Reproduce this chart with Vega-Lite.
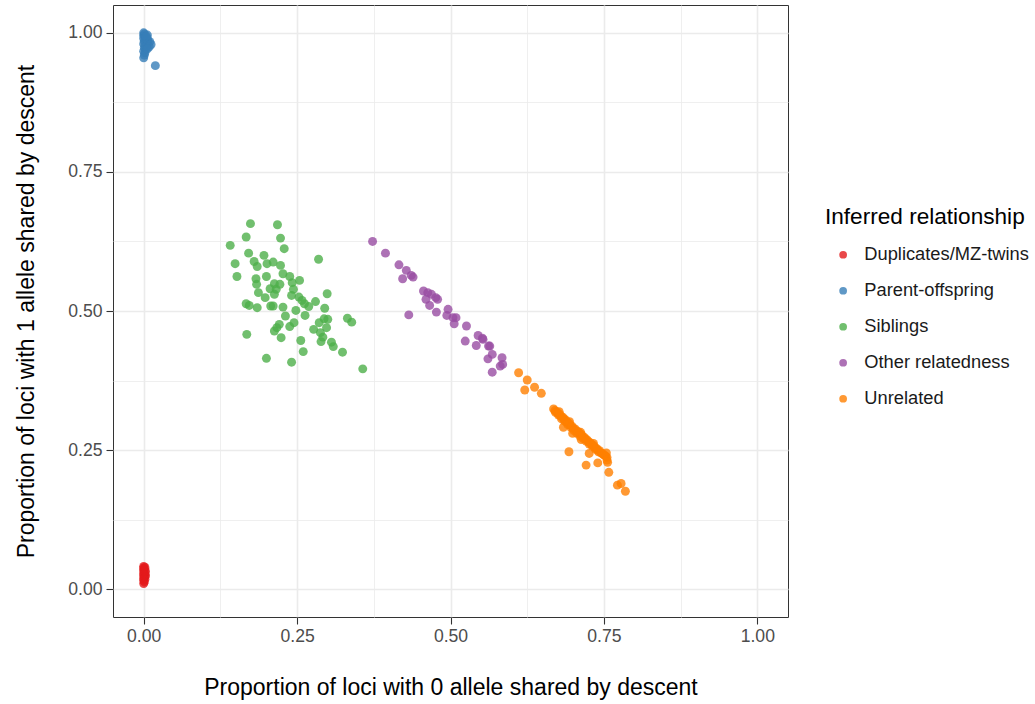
{
"$schema": "https://vega.github.io/schema/vega-lite/v6.json",
"width": 675, "height": 612,
"autosize": {"type": "none"},
"padding": {"left": 113, "top": 5, "right": 247, "bottom": 87},
"background": "white",
"config": {"font": "Liberation Sans", "view": {"stroke": "#333333", "strokeWidth": 1}},
"data": {"values": [
{"x":0.000,"y":0.010,"rel":"Duplicates/MZ-twins"},{"x":0.001,"y":0.013,"rel":"Duplicates/MZ-twins"},{"x":0.000,"y":0.016,"rel":"Duplicates/MZ-twins"},{"x":0.002,"y":0.018,"rel":"Duplicates/MZ-twins"},{"x":0.000,"y":0.020,"rel":"Duplicates/MZ-twins"},{"x":0.001,"y":0.022,"rel":"Duplicates/MZ-twins"},{"x":0.003,"y":0.024,"rel":"Duplicates/MZ-twins"},{"x":0.000,"y":0.025,"rel":"Duplicates/MZ-twins"},{"x":0.002,"y":0.027,"rel":"Duplicates/MZ-twins"},{"x":0.000,"y":0.029,"rel":"Duplicates/MZ-twins"},{"x":0.001,"y":0.031,"rel":"Duplicates/MZ-twins"},{"x":0.003,"y":0.032,"rel":"Duplicates/MZ-twins"},{"x":0.000,"y":0.034,"rel":"Duplicates/MZ-twins"},{"x":0.001,"y":0.036,"rel":"Duplicates/MZ-twins"},{"x":0.000,"y":0.038,"rel":"Duplicates/MZ-twins"},{"x":0.002,"y":0.039,"rel":"Duplicates/MZ-twins"},{"x":0.000,"y":0.041,"rel":"Duplicates/MZ-twins"},
{"x":0.000,"y":1.000,"rel":"Parent-offspring"},{"x":0.001,"y":0.998,"rel":"Parent-offspring"},{"x":0.000,"y":0.995,"rel":"Parent-offspring"},{"x":0.002,"y":0.993,"rel":"Parent-offspring"},{"x":0.000,"y":0.990,"rel":"Parent-offspring"},{"x":0.003,"y":0.988,"rel":"Parent-offspring"},{"x":0.001,"y":0.985,"rel":"Parent-offspring"},{"x":0.004,"y":0.983,"rel":"Parent-offspring"},{"x":0.000,"y":0.980,"rel":"Parent-offspring"},{"x":0.002,"y":0.978,"rel":"Parent-offspring"},{"x":0.005,"y":0.976,"rel":"Parent-offspring"},{"x":0.001,"y":0.973,"rel":"Parent-offspring"},{"x":0.003,"y":0.970,"rel":"Parent-offspring"},{"x":0.000,"y":0.967,"rel":"Parent-offspring"},{"x":0.002,"y":0.964,"rel":"Parent-offspring"},{"x":0.001,"y":0.960,"rel":"Parent-offspring"},{"x":0.000,"y":0.955,"rel":"Parent-offspring"},{"x":0.006,"y":0.990,"rel":"Parent-offspring"},{"x":0.007,"y":0.985,"rel":"Parent-offspring"},{"x":0.010,"y":0.984,"rel":"Parent-offspring"},{"x":0.012,"y":0.979,"rel":"Parent-offspring"},{"x":0.009,"y":0.975,"rel":"Parent-offspring"},{"x":0.006,"y":0.971,"rel":"Parent-offspring"},{"x":0.004,"y":0.994,"rel":"Parent-offspring"},{"x":0.006,"y":0.996,"rel":"Parent-offspring"},{"x":0.019,"y":0.941,"rel":"Parent-offspring"},
{"x":0.174,"y":0.657,"rel":"Siblings"},{"x":0.218,"y":0.655,"rel":"Siblings"},{"x":0.167,"y":0.633,"rel":"Siblings"},{"x":0.223,"y":0.631,"rel":"Siblings"},{"x":0.141,"y":0.618,"rel":"Siblings"},{"x":0.229,"y":0.612,"rel":"Siblings"},{"x":0.171,"y":0.604,"rel":"Siblings"},{"x":0.196,"y":0.600,"rel":"Siblings"},{"x":0.285,"y":0.593,"rel":"Siblings"},{"x":0.149,"y":0.585,"rel":"Siblings"},{"x":0.180,"y":0.589,"rel":"Siblings"},{"x":0.185,"y":0.580,"rel":"Siblings"},{"x":0.201,"y":0.585,"rel":"Siblings"},{"x":0.211,"y":0.588,"rel":"Siblings"},{"x":0.223,"y":0.582,"rel":"Siblings"},{"x":0.152,"y":0.562,"rel":"Siblings"},{"x":0.227,"y":0.567,"rel":"Siblings"},{"x":0.183,"y":0.558,"rel":"Siblings"},{"x":0.200,"y":0.562,"rel":"Siblings"},{"x":0.238,"y":0.562,"rel":"Siblings"},{"x":0.254,"y":0.555,"rel":"Siblings"},{"x":0.184,"y":0.548,"rel":"Siblings"},{"x":0.213,"y":0.549,"rel":"Siblings"},{"x":0.222,"y":0.548,"rel":"Siblings"},{"x":0.242,"y":0.551,"rel":"Siblings"},{"x":0.206,"y":0.540,"rel":"Siblings"},{"x":0.216,"y":0.539,"rel":"Siblings"},{"x":0.244,"y":0.539,"rel":"Siblings"},{"x":0.187,"y":0.533,"rel":"Siblings"},{"x":0.213,"y":0.530,"rel":"Siblings"},{"x":0.241,"y":0.528,"rel":"Siblings"},{"x":0.253,"y":0.525,"rel":"Siblings"},{"x":0.299,"y":0.531,"rel":"Siblings"},{"x":0.198,"y":0.524,"rel":"Siblings"},{"x":0.258,"y":0.519,"rel":"Siblings"},{"x":0.167,"y":0.513,"rel":"Siblings"},{"x":0.172,"y":0.510,"rel":"Siblings"},{"x":0.185,"y":0.506,"rel":"Siblings"},{"x":0.207,"y":0.509,"rel":"Siblings"},{"x":0.227,"y":0.507,"rel":"Siblings"},{"x":0.211,"y":0.509,"rel":"Siblings"},{"x":0.262,"y":0.513,"rel":"Siblings"},{"x":0.280,"y":0.517,"rel":"Siblings"},{"x":0.248,"y":0.501,"rel":"Siblings"},{"x":0.269,"y":0.508,"rel":"Siblings"},{"x":0.295,"y":0.505,"rel":"Siblings"},{"x":0.263,"y":0.492,"rel":"Siblings"},{"x":0.231,"y":0.491,"rel":"Siblings"},{"x":0.294,"y":0.486,"rel":"Siblings"},{"x":0.300,"y":0.485,"rel":"Siblings"},{"x":0.332,"y":0.487,"rel":"Siblings"},{"x":0.339,"y":0.480,"rel":"Siblings"},{"x":0.245,"y":0.479,"rel":"Siblings"},{"x":0.221,"y":0.476,"rel":"Siblings"},{"x":0.238,"y":0.472,"rel":"Siblings"},{"x":0.217,"y":0.470,"rel":"Siblings"},{"x":0.286,"y":0.479,"rel":"Siblings"},{"x":0.277,"y":0.467,"rel":"Siblings"},{"x":0.298,"y":0.470,"rel":"Siblings"},{"x":0.213,"y":0.464,"rel":"Siblings"},{"x":0.288,"y":0.461,"rel":"Siblings"},{"x":0.168,"y":0.458,"rel":"Siblings"},{"x":0.292,"y":0.453,"rel":"Siblings"},{"x":0.224,"y":0.452,"rel":"Siblings"},{"x":0.256,"y":0.447,"rel":"Siblings"},{"x":0.289,"y":0.445,"rel":"Siblings"},{"x":0.306,"y":0.444,"rel":"Siblings"},{"x":0.309,"y":0.436,"rel":"Siblings"},{"x":0.324,"y":0.426,"rel":"Siblings"},{"x":0.260,"y":0.427,"rel":"Siblings"},{"x":0.200,"y":0.415,"rel":"Siblings"},{"x":0.241,"y":0.408,"rel":"Siblings"},{"x":0.357,"y":0.396,"rel":"Siblings"},
{"x":0.373,"y":0.625,"rel":"Other relatedness"},{"x":0.394,"y":0.604,"rel":"Other relatedness"},{"x":0.416,"y":0.583,"rel":"Other relatedness"},{"x":0.428,"y":0.573,"rel":"Other relatedness"},{"x":0.436,"y":0.564,"rel":"Other relatedness"},{"x":0.422,"y":0.558,"rel":"Other relatedness"},{"x":0.439,"y":0.561,"rel":"Other relatedness"},{"x":0.456,"y":0.536,"rel":"Other relatedness"},{"x":0.463,"y":0.533,"rel":"Other relatedness"},{"x":0.469,"y":0.530,"rel":"Other relatedness"},{"x":0.460,"y":0.521,"rel":"Other relatedness"},{"x":0.476,"y":0.524,"rel":"Other relatedness"},{"x":0.479,"y":0.521,"rel":"Other relatedness"},{"x":0.466,"y":0.510,"rel":"Other relatedness"},{"x":0.477,"y":0.498,"rel":"Other relatedness"},{"x":0.432,"y":0.493,"rel":"Other relatedness"},{"x":0.496,"y":0.503,"rel":"Other relatedness"},{"x":0.494,"y":0.492,"rel":"Other relatedness"},{"x":0.504,"y":0.488,"rel":"Other relatedness"},{"x":0.509,"y":0.488,"rel":"Other relatedness"},{"x":0.506,"y":0.477,"rel":"Other relatedness"},{"x":0.526,"y":0.473,"rel":"Other relatedness"},{"x":0.545,"y":0.456,"rel":"Other relatedness"},{"x":0.553,"y":0.449,"rel":"Other relatedness"},{"x":0.524,"y":0.446,"rel":"Other relatedness"},{"x":0.542,"y":0.438,"rel":"Other relatedness"},{"x":0.562,"y":0.437,"rel":"Other relatedness"},{"x":0.552,"y":0.451,"rel":"Other relatedness"},{"x":0.564,"y":0.437,"rel":"Other relatedness"},{"x":0.568,"y":0.422,"rel":"Other relatedness"},{"x":0.561,"y":0.414,"rel":"Other relatedness"},{"x":0.584,"y":0.416,"rel":"Other relatedness"},{"x":0.585,"y":0.404,"rel":"Other relatedness"},{"x":0.581,"y":0.401,"rel":"Other relatedness"},{"x":0.568,"y":0.390,"rel":"Other relatedness"},
{"x":0.611,"y":0.389,"rel":"Unrelated"},{"x":0.625,"y":0.376,"rel":"Unrelated"},{"x":0.621,"y":0.358,"rel":"Unrelated"},{"x":0.637,"y":0.363,"rel":"Unrelated"},{"x":0.648,"y":0.352,"rel":"Unrelated"},
{"x":0.668,"y":0.324,"rel":"Unrelated"},{"x":0.670,"y":0.321,"rel":"Unrelated"},{"x":0.671,"y":0.318,"rel":"Unrelated"},{"x":0.673,"y":0.319,"rel":"Unrelated"},{"x":0.675,"y":0.316,"rel":"Unrelated"},{"x":0.676,"y":0.313,"rel":"Unrelated"},{"x":0.678,"y":0.314,"rel":"Unrelated"},{"x":0.680,"y":0.311,"rel":"Unrelated"},{"x":0.681,"y":0.306,"rel":"Unrelated"},{"x":0.683,"y":0.309,"rel":"Unrelated"},{"x":0.685,"y":0.306,"rel":"Unrelated"},{"x":0.686,"y":0.302,"rel":"Unrelated"},{"x":0.688,"y":0.304,"rel":"Unrelated"},{"x":0.690,"y":0.300,"rel":"Unrelated"},{"x":0.691,"y":0.296,"rel":"Unrelated"},{"x":0.693,"y":0.298,"rel":"Unrelated"},{"x":0.695,"y":0.295,"rel":"Unrelated"},{"x":0.696,"y":0.291,"rel":"Unrelated"},{"x":0.698,"y":0.293,"rel":"Unrelated"},{"x":0.700,"y":0.289,"rel":"Unrelated"},{"x":0.701,"y":0.285,"rel":"Unrelated"},{"x":0.703,"y":0.288,"rel":"Unrelated"},{"x":0.705,"y":0.285,"rel":"Unrelated"},{"x":0.706,"y":0.280,"rel":"Unrelated"},{"x":0.708,"y":0.283,"rel":"Unrelated"},{"x":0.710,"y":0.280,"rel":"Unrelated"},{"x":0.711,"y":0.275,"rel":"Unrelated"},{"x":0.713,"y":0.278,"rel":"Unrelated"},{"x":0.715,"y":0.275,"rel":"Unrelated"},{"x":0.716,"y":0.271,"rel":"Unrelated"},{"x":0.718,"y":0.273,"rel":"Unrelated"},{"x":0.720,"y":0.270,"rel":"Unrelated"},{"x":0.721,"y":0.266,"rel":"Unrelated"},{"x":0.723,"y":0.268,"rel":"Unrelated"},{"x":0.725,"y":0.265,"rel":"Unrelated"},{"x":0.726,"y":0.261,"rel":"Unrelated"},{"x":0.728,"y":0.263,"rel":"Unrelated"},{"x":0.730,"y":0.260,"rel":"Unrelated"},{"x":0.731,"y":0.257,"rel":"Unrelated"},{"x":0.733,"y":0.258,"rel":"Unrelated"},{"x":0.735,"y":0.255,"rel":"Unrelated"},{"x":0.736,"y":0.252,"rel":"Unrelated"},{"x":0.738,"y":0.253,"rel":"Unrelated"},{"x":0.740,"y":0.250,"rel":"Unrelated"},{"x":0.741,"y":0.247,"rel":"Unrelated"},{"x":0.743,"y":0.249,"rel":"Unrelated"},{"x":0.745,"y":0.245,"rel":"Unrelated"},{"x":0.747,"y":0.244,"rel":"Unrelated"},{"x":0.749,"y":0.242,"rel":"Unrelated"},{"x":0.751,"y":0.241,"rel":"Unrelated"},{"x":0.753,"y":0.239,"rel":"Unrelated"},{"x":0.755,"y":0.237,"rel":"Unrelated"},{"x":0.755,"y":0.232,"rel":"Unrelated"},{"x":0.756,"y":0.228,"rel":"Unrelated"},{"x":0.754,"y":0.245,"rel":"Unrelated"},{"x":0.712,"y":0.282,"rel":"Unrelated"},{"x":0.694,"y":0.301,"rel":"Unrelated"},{"x":0.677,"y":0.319,"rel":"Unrelated"},{"x":0.733,"y":0.262,"rel":"Unrelated"},
{"x":0.684,"y":0.291,"rel":"Unrelated"},{"x":0.699,"y":0.280,"rel":"Unrelated"},{"x":0.713,"y":0.269,"rel":"Unrelated"},{"x":0.693,"y":0.247,"rel":"Unrelated"},{"x":0.726,"y":0.244,"rel":"Unrelated"},{"x":0.721,"y":0.223,"rel":"Unrelated"},{"x":0.740,"y":0.227,"rel":"Unrelated"},{"x":0.758,"y":0.210,"rel":"Unrelated"},{"x":0.772,"y":0.187,"rel":"Unrelated"},{"x":0.778,"y":0.190,"rel":"Unrelated"},{"x":0.785,"y":0.176,"rel":"Unrelated"}
]},
"mark": {"type": "circle", "size": 80, "opacity": 0.8},
"encoding": {
"x": {"field": "x", "type": "quantitative",
  "scale": {"domain": [-0.05, 1.05], "nice": false, "zero": false},
  "axis": {"title": "Proportion of loci with 0 allele shared by descent",
    "values": [0, 0.125, 0.25, 0.375, 0.5, 0.625, 0.75, 0.875, 1],
    "labelExpr": "round(datum.value*8) % 2 == 1 ? '' : format(datum.value, '.2f')",
    "domain": false, "grid": true,
    "gridColor": "#EBEBEB",
    "gridWidth": {"condition": {"test": "round(datum.value*8) % 2 == 1", "value": 0.8}, "value": 1.6},
    "tickOpacity": {"condition": {"test": "round(datum.value*8) % 2 == 1", "value": 0}, "value": 1},
    "tickColor": "#333333", "tickSize": 7, "tickWidth": 1.1,
    "labelFontSize": 17.6, "labelColor": "#4D4D4D", "labelPadding": 3, "labelFlush": false,
    "titleFontSize": 23, "titleFontWeight": "normal", "titleColor": "#000000", "titlePadding": 32, "titleLimit": 900}},
"y": {"field": "y", "type": "quantitative",
  "scale": {"domain": [-0.05, 1.05], "nice": false, "zero": false},
  "axis": {"title": "Proportion of loci with 1 allele shared by descent",
    "values": [0, 0.125, 0.25, 0.375, 0.5, 0.625, 0.75, 0.875, 1],
    "labelExpr": "round(datum.value*8) % 2 == 1 ? '' : format(datum.value, '.2f')",
    "domain": false, "grid": true,
    "gridColor": "#EBEBEB",
    "gridWidth": {"condition": {"test": "round(datum.value*8) % 2 == 1", "value": 0.8}, "value": 1.6},
    "tickOpacity": {"condition": {"test": "round(datum.value*8) % 2 == 1", "value": 0}, "value": 1},
    "tickColor": "#333333", "tickSize": 7, "tickWidth": 1.1,
    "labelFontSize": 17.6, "labelColor": "#4D4D4D", "labelPadding": 4, "labelFlush": false,
    "titleFontSize": 23, "titleFontWeight": "normal", "titleColor": "#000000", "titlePadding": 29, "titleLimit": 900}},
"color": {"field": "rel", "type": "nominal",
  "scale": {"domain": ["Duplicates/MZ-twins", "Parent-offspring", "Siblings", "Other relatedness", "Unrelated"],
            "range": ["#E41A1C", "#377EB8", "#4DAF4A", "#984EA3", "#FF7F00"]},
  "legend": {"title": "Inferred relationship", "orient": "none", "legendX": 712, "legendY": 201,
    "titleFontSize": 22.6, "titleFontWeight": "normal", "titleColor": "#000000", "titlePadding": 17, "titleLimit": 400,
    "labelFontSize": 18.3, "labelColor": "#1A1A1A", "labelOffset": 12, "labelLimit": 400,
    "symbolType": "circle", "symbolSize": 60, "symbolOpacity": 0.8, "symbolStrokeWidth": 0, "symbolOffset": 9,
    "rowPadding": 17, "padding": 0}}
}
}
